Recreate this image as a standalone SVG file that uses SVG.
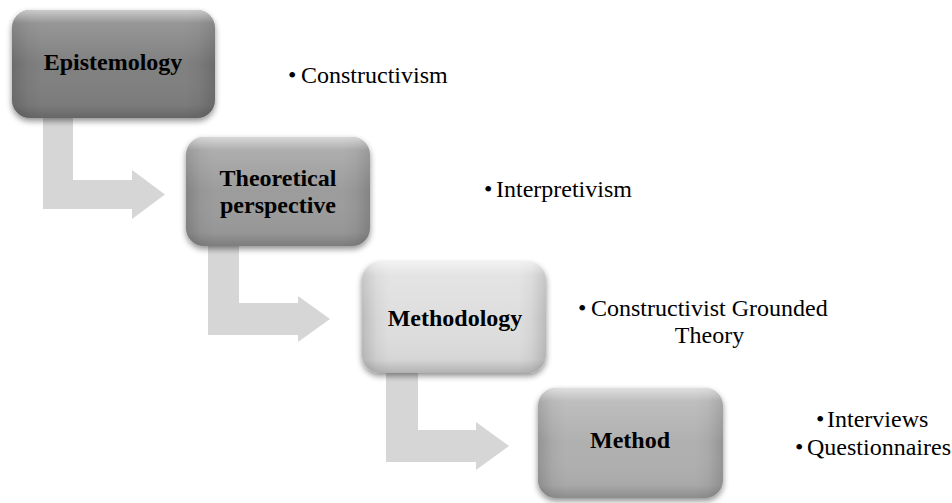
<svg xmlns="http://www.w3.org/2000/svg" width="952" height="503" viewBox="0 0 952 503">
<style>
.arrow{fill:#d6d6d6}
.lbl{font-family:'Liberation Serif',serif;font-weight:bold;font-size:24px;fill:#000;text-anchor:middle}
.bul{font-family:'Liberation Serif',serif;font-size:24px;fill:#000}
.ov{fill:url(#gv)}
.oh{fill:url(#gh)}
.base{filter:url(#sh)}
</style>
<defs>
<filter id="sh" x="-10%" y="-10%" width="120%" height="130%">
<feGaussianBlur in="SourceAlpha" stdDeviation="3"/>
<feOffset dy="3" result="b"/>
<feComponentTransfer><feFuncA type="linear" slope="0.45"/></feComponentTransfer>
<feMerge><feMergeNode/><feMergeNode in="SourceGraphic"/></feMerge>
</filter>
<linearGradient id="gv" x1="0" y1="0" x2="0" y2="1">
<stop offset="0" stop-color="#fff" stop-opacity="0.6"/>
<stop offset="0.12" stop-color="#fff" stop-opacity="0.18"/>
<stop offset="0.5" stop-color="#fff" stop-opacity="0"/>
<stop offset="0.88" stop-color="#000" stop-opacity="0.04"/>
<stop offset="1" stop-color="#000" stop-opacity="0.2"/>
</linearGradient>
<linearGradient id="gh" x1="0" y1="0" x2="1" y2="0">
<stop offset="0" stop-color="#000" stop-opacity="0.16"/>
<stop offset="0.08" stop-color="#000" stop-opacity="0.04"/>
<stop offset="0.15" stop-color="#000" stop-opacity="0"/>
<stop offset="0.85" stop-color="#000" stop-opacity="0"/>
<stop offset="0.92" stop-color="#000" stop-opacity="0.04"/>
<stop offset="1" stop-color="#000" stop-opacity="0.16"/>
</linearGradient>
</defs>
<rect width="952" height="503" fill="#fff"/>
<g id="connectors">
<polygon class="arrow" points="43,64 73,64 73,180 132,180 132,170 165,194.5 132,219 132,209 43,209"/>
<polygon class="arrow" points="208,192 239,192 239,303 298,303 298,296 330,319 298,342 298,335 208,335"/>
<polygon class="arrow" points="386,318 418,318 418,430 476,430 476,422 509,446 476,470 476,462 386,462"/>
</g>
<g id="node-epistemology">
<rect class="base" x="12" y="10" width="203" height="108" rx="18" fill="#808080"/>
<rect class="oh" x="12" y="10" width="203" height="108" rx="18"/>
<rect class="ov" x="12" y="10" width="203" height="108" rx="18"/>
<text class="lbl" x="113" y="70">Epistemology</text>
</g>
<g id="node-theoretical">
<rect class="base" x="186" y="137" width="184" height="109" rx="18" fill="#9c9c9c"/>
<rect class="oh" x="186" y="137" width="184" height="109" rx="18"/>
<rect class="ov" x="186" y="137" width="184" height="109" rx="18"/>
<text class="lbl" x="278" y="186">Theoretical</text>
<text class="lbl" x="278" y="213">perspective</text>
</g>
<g id="node-methodology">
<rect class="base" x="362" y="262" width="184" height="111" rx="18" fill="#dedede"/>
<rect class="oh" x="362" y="262" width="184" height="111" rx="18"/>
<rect class="ov" x="362" y="262" width="184" height="111" rx="18"/>
<text class="lbl" x="455" y="326">Methodology</text>
</g>
<g id="node-method">
<rect class="base" x="538" y="388" width="185" height="110" rx="18" fill="#b0b0b0"/>
<rect class="oh" x="538" y="388" width="185" height="110" rx="18"/>
<rect class="ov" x="538" y="388" width="185" height="110" rx="18"/>
<text class="lbl" x="630" y="448">Method</text>
</g>
<g id="bullets-epistemology">
<text class="bul" y="83"><tspan x="288">•</tspan><tspan x="301">Constructivism</tspan></text>
</g>
<g id="bullets-theoretical">
<text class="bul" y="197"><tspan x="484">•</tspan><tspan x="496">Interpretivism</tspan></text>
</g>
<g id="bullets-methodology">
<text class="bul" y="316"><tspan x="578">•</tspan><tspan x="591">Constructivist Grounded</tspan></text>
<text class="bul" x="709.5" y="343" text-anchor="middle">Theory</text>
</g>
<g id="bullets-method">
<text class="bul" y="427"><tspan x="816">•</tspan><tspan x="827">Interviews</tspan></text>
<text class="bul" y="455"><tspan x="795">•</tspan><tspan x="807">Questionnaires</tspan></text>
</g>
</svg>
